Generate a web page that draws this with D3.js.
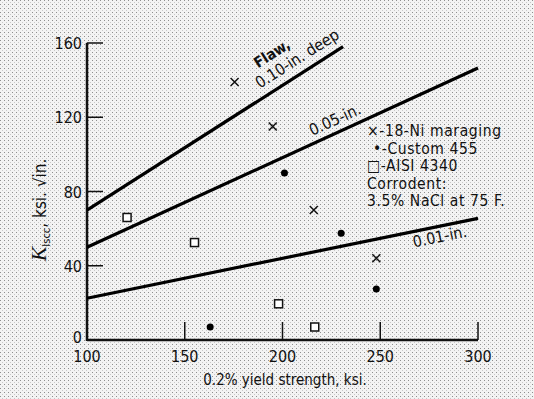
<!DOCTYPE html>
<html>
<head>
<meta charset="utf-8">
<script src="https://cdn.jsdelivr.net/npm/d3@7"></script>
<style>
  body { margin: 0; background: #fff; }
  svg text { font-family: "DejaVu Sans Condensed", "DejaVu Sans", sans-serif; fill: #111; }
</style>
</head>
<body>
<div id="chart"></div>
<script>
// flaw-depth lines: [x, K] end points
const flawLines = [
  { name: '0.10', pts: [[100, 70], [231, 158]] },
  { name: '0.05', pts: [[100, 50], [300, 146.5]] },
  { name: '0.01', pts: [[100, 22.5], [300, 65.5]] }
]
const maraging = [[175.5, 139], [195, 115], [216, 70], [248, 44]]
const custom455 = [[201, 90], [230, 57.5], [248, 27.5], [163, 7]]
const aisi4340 = [[120.5, 66], [155, 52.5], [198, 19.5], [216.5, 7]]
const xTicks = [100, 150, 200, 250, 300]
const yTicks = [0, 40, 80, 120, 160]
const legendLines = ['\u00d7-18-Ni maraging', '\u2022-Custom 455', '\u25a1-AISI 4340', 'Corrodent:', '3.5% NaCl at 75 F.']

const W = 534, H = 399
const svg = d3.select('#chart').append('svg').attr('width', W).attr('height', H)

// halftone-ish paper background
const defs = svg.append('defs')
const pat = defs.append('pattern').attr('id', 'dots').attr('width', 4).attr('height', 4)
  .attr('patternUnits', 'userSpaceOnUse')
pat.append('rect').attr('width', 4).attr('height', 4).attr('fill', '#f3f3f3')
pat.append('rect').attr('x', 0).attr('y', 0).attr('width', 1).attr('height', 1).attr('fill', '#8e8e8e')
pat.append('rect').attr('x', 2).attr('y', 2).attr('width', 1).attr('height', 1).attr('fill', '#c8c8c8')
svg.append('rect').attr('width', W).attr('height', H).attr('fill', 'url(#dots)')

const x = d3.scaleLinear().domain([100, 300]).range([87, 478])
const y = d3.scaleLinear().domain([0, 160]).range([340, 43])

// axes
svg.append('line').attr('x1', x(100)).attr('x2', x(100)).attr('y1', y(0) + 1).attr('y2', y(160))
  .attr('stroke', '#111').attr('stroke-width', 2.5)
svg.append('line').attr('x1', x(100)).attr('x2', x(300)).attr('y1', y(0)).attr('y2', y(0))
  .attr('stroke', '#111').attr('stroke-width', 2.5)

svg.selectAll('.ytick').data(yTicks.filter(d => d > 0)).enter().append('line')
  .attr('x1', x(100)).attr('x2', x(100) + 16).attr('y1', d => y(d)).attr('y2', d => y(d))
  .attr('stroke', '#111').attr('stroke-width', 1.5)
svg.selectAll('.xtick').data(xTicks.filter(d => d > 100)).enter().append('line')
  .attr('x1', d => x(d)).attr('x2', d => x(d)).attr('y1', y(0)).attr('y2', y(0) - 18)
  .attr('stroke', '#111').attr('stroke-width', 1.5)

svg.selectAll('.ylab').data(yTicks).enter().append('text')
  .attr('x', x(100) - 5).attr('y', d => y(d) + (d === 0 ? 3 : 6))
  .attr('text-anchor', 'end').attr('font-size', 16).text(d => d)
svg.selectAll('.xlab').data(xTicks).enter().append('text')
  .attr('x', d => x(d)).attr('y', y(0) + 22)
  .attr('text-anchor', 'middle').attr('font-size', 16).text(d => d)

svg.append('text').attr('x', 285).attr('y', 385).attr('text-anchor', 'middle')
  .attr('font-size', 15).text('0.2% yield strength, ksi.')

const yl = svg.append('text').attr('transform', 'translate(46,210) rotate(-90)')
  .attr('text-anchor', 'middle').attr('font-size', 17)
yl.append('tspan').attr('font-family', 'Liberation Serif, serif').attr('font-size', 22).attr('font-style', 'italic').text('K')
yl.append('tspan').attr('font-size', 11).attr('dy', 4).text('Iscc')
yl.append('tspan').attr('dy', -4).text(', ksi. \u221ain.')

// flaw lines
const line = d3.line().x(d => x(d[0])).y(d => y(d[1]))
svg.selectAll('.flaw').data(flawLines).enter().append('path')
  .attr('d', d => line(d.pts)).attr('fill', 'none').attr('stroke', '#000').attr('stroke-width', 3.2)

function angle(d) {
  const [a, b] = d.pts
  return Math.atan2(y(b[1]) - y(a[1]), x(b[0]) - x(a[0])) * 180 / Math.PI
}
const lineLabels = [
  { i: 0, at: 209, off: 11, size: 16, text: '0.10-in. deep' },
  { i: 1, at: 228, off: 8, size: 16, text: '0.05-in.' },
  { i: 2, at: 281, off: -16, size: 16, text: '0.01-in.' }
]
lineLabels.forEach(l => {
  const d = flawLines[l.i]
  const [a, b] = d.pts
  const t = (l.at - a[0]) / (b[0] - a[0])
  const vy = a[1] + t * (b[1] - a[1])
  svg.append('text')
    .attr('transform', `translate(${x(l.at)},${y(vy) - l.off}) rotate(${angle(d)})`)
    .attr('text-anchor', 'middle').attr('font-size', l.size).text(l.text)
})
{
  const d = flawLines[0]
  svg.append('text')
    .attr('transform', `translate(${x(196)},${y(152)}) rotate(${angle(d)})`)
    .attr('text-anchor', 'middle').attr('font-size', 15).attr('font-weight', 'bold').text('Flaw,')
}

// data points
svg.selectAll('.mar').data(maraging).enter().append('path')
  .attr('transform', d => `translate(${x(d[0])},${y(d[1])})`)
  .attr('d', 'M-4,-4L4,4M-4,4L4,-4').attr('stroke', '#111').attr('stroke-width', 1.5)
svg.selectAll('.cus').data(custom455).enter().append('circle')
  .attr('cx', d => x(d[0])).attr('cy', d => y(d[1])).attr('r', 3.5).attr('fill', '#000')
svg.selectAll('.ais').data(aisi4340).enter().append('rect')
  .attr('x', d => x(d[0]) - 4).attr('y', d => y(d[1]) - 4).attr('width', 8).attr('height', 8)
  .attr('fill', '#fff').attr('stroke', '#111').attr('stroke-width', 1.5)

// legend
svg.selectAll('.leg').data(legendLines).enter().append('text')
  .attr('x', (d, i) => i === 1 ? 373 : 367).attr('y', (d, i) => 136 + i * 17.5)
  .attr('font-family', 'DejaVu Sans, sans-serif')
  .attr('font-size', 15.5).attr('letter-spacing', 0.6).text(d => d)
</script>
</body>
</html>
